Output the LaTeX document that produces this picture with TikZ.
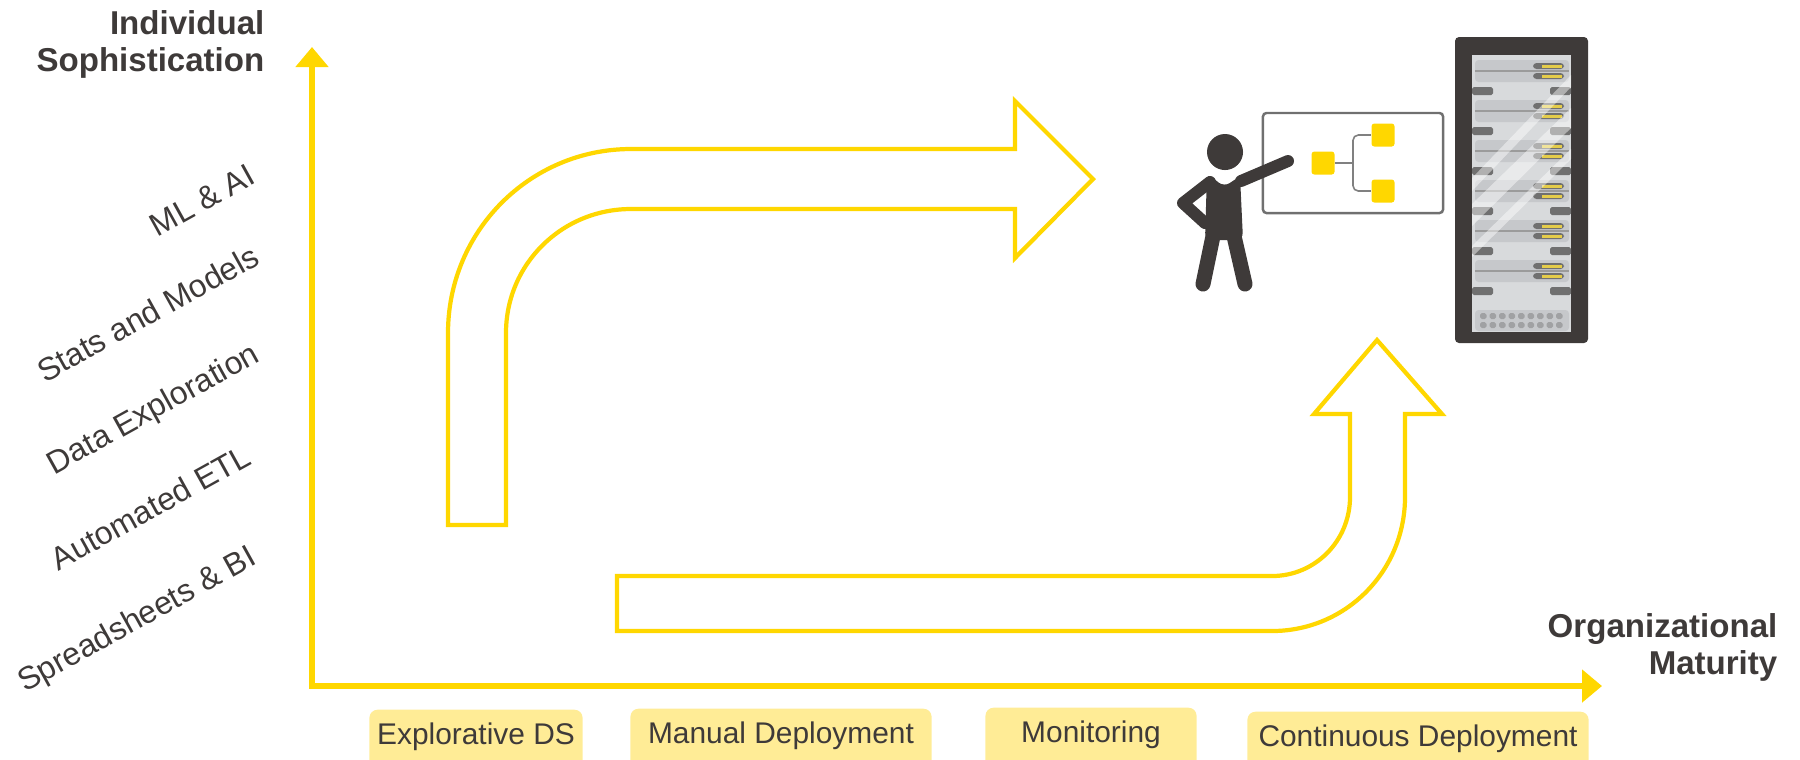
\documentclass[tikz,border=0pt]{standalone}
\usepackage{fontspec}
\setmainfont{Liberation Sans}
\usetikzlibrary{arrows.meta}

\definecolor{gold}{RGB}{255,215,0}
\definecolor{paleyellow}{RGB}{255,236,150}
\definecolor{ink}{RGB}{62,58,57}
\definecolor{boardgrey}{RGB}{112,112,112}
\definecolor{linegrey}{RGB}{128,128,128}
\definecolor{rackpanel}{RGB}{216,218,220}
\definecolor{rackunit}{RGB}{198,200,203}
\definecolor{rackrail}{RGB}{112,112,112}
\definecolor{ventgrey}{RGB}{160,161,163}
\definecolor{ledyellow}{RGB}{228,204,74}

\begin{document}
\begin{tikzpicture}[
  x=0.01cm, y=-0.01cm,
  axis/.style={draw=gold, line width=1.7pt, {Triangle[length=0.2cm, width=0.32cm]}-{Triangle[length=0.2cm, width=0.32cm]}},
  blockarrow/.style={draw=gold, line width=1.2pt, fill=white},
  axistitle/.style={align=right, inner sep=0, text=ink, font=\bfseries\fontsize{9.4}{10.4}\selectfont},
  level/.style={rotate=29, anchor=base east, inner sep=0, text=ink, font=\fontsize{9.1}{11}\selectfont},
  stage/.style={rectangle, fill=paleyellow, rounded corners=0.08cm, anchor=north, inner xsep=0, inner ysep=0,
    minimum height=0.62cm, text height=0.22cm, text depth=0.15cm, text=ink, font=\fontsize{8.5}{10}\selectfont},
  board/.style={rectangle, draw=boardgrey, line width=0.7pt, rounded corners=1pt, minimum width=1.8cm, minimum height=1.0cm},
  tile/.style={rectangle, fill=gold, rounded corners=0.8pt, minimum size=0.23cm, inner sep=0},
  tree/.style={draw=linegrey, line width=0.45pt, rounded corners=1.5pt},
  limb/.style={draw=ink, line cap=round, line join=round}
]
\useasboundingbox (0,0) rectangle (1800,759);

% axes
\coordinate (origin) at (312,686);
\coordinate (ytop) at (312,47);
\coordinate (xend) at (1602,686);
\draw[axis] (ytop) -- (origin) -- (xend);

\node[axistitle, anchor=north east] (ytitle) at (265,10) {Individual\\Sophistication};
\node[axistitle, anchor=north east] (xtitle) at (1778,613) {Organizational\\Maturity};

% skill levels along the vertical axis
\node[level] (ml) at (258,182) {ML \& AI};
\node[level] (stats) at (262,263) {Stats and Models};
\node[level] (explore) at (262,360) {Data Exploration};
\node[level] (etl) at (254,463) {Automated ETL};
\node[level] (sheets) at (259,563) {Spreadsheets \& BI};

% stages along the horizontal axis
\node[stage, minimum width=2.13cm] (explorative) at (476,709) {Explorative DS};
\node[stage, minimum width=3.01cm] (manual) at (781,708) {Manual Deployment};
\node[stage, minimum width=2.11cm] (monitoring) at (1091,707) {Monitoring};
\node[stage, minimum width=3.41cm] (continuous) at (1418,711) {Continuous Deployment};

% bent arrow: up, then right
\draw[blockarrow] (448,525) -- (448,333)
  .. controls (448,231) and (530,149) .. (631,149)
  -- (1015,149) -- (1015,101) -- (1093,179) -- (1015,258) -- (1015,209) -- (631,209)
  .. controls (562,209) and (506,264) .. (506,333)
  -- (506,525) -- cycle;

% bent arrow: right, then up
\draw[blockarrow] (617,576) -- (1272,576)
  .. controls (1315,576) and (1350,541) .. (1350,497)
  -- (1350,414) -- (1314,414) -- (1377,340) -- (1442,414) -- (1405,414) -- (1405,497)
  .. controls (1405,571) and (1346,631) .. (1272,631)
  -- (617,631) -- cycle;

% presenter at the board
\node[board] (board) at (1353,163) {};
\node[tile] (root) at (1323,163) {};
\node[tile] (leafa) at (1383,135) {};
\node[tile] (leafb) at (1383,191) {};
\coordinate (fork) at (1353,163);
\draw[tree] (root.east) -- (fork);
\draw[tree] (leafa.west) -| (fork) |- (leafb.west);

\fill[ink] (1225,152) circle[radius=0.18cm];
\fill[ink, rounded corners=2pt] (1207,173) -- (1224,187) -- (1240,176) -- (1243,240) -- (1205,240) -- cycle;
\draw[limb, line width=0.12cm] (1241,181) -- (1288,161);
\draw[limb, line width=0.12cm] (1210,182) -- (1183,203) -- (1205,223);
\draw[limb, line width=0.15cm] (1213,236) -- (1203,284);
\draw[limb, line width=0.15cm] (1234,236) -- (1245,284);

% server rack
\fill[ink, rounded corners=0.04cm] (1455,37) rectangle (1588,343);
\fill[rackpanel] (1472,55) rectangle (1571,332);
\foreach \k in {0,...,5}{
  \pgfmathsetmacro\top{60+40*\k}
  \fill[rackunit, rounded corners=1pt] (1475,\top) rectangle (1569,\top+22);
  \draw[rackrail!70, line width=0.3pt] (1475,\top+11) -- (1569,\top+11);
  \fill[rackrail, rounded corners=1pt] (1533,\top+3) rectangle (1564,\top+9);
  \fill[ledyellow] (1542,\top+4.5) rectangle (1562,\top+7.5);
  \fill[rackrail, rounded corners=1pt] (1533,\top+13) rectangle (1564,\top+19);
  \fill[ledyellow] (1542,\top+14.5) rectangle (1562,\top+17.5);
  \fill[rackrail, rounded corners=0.5pt] (1472,\top+27) rectangle (1493,\top+35);
  \fill[rackrail, rounded corners=0.5pt] (1550,\top+27) rectangle (1571,\top+35);
}
\fill[rackunit, rounded corners=1pt] (1475,310) rectangle (1569,331);
\foreach \i in {0,...,8}
  \foreach \j in {0,1}
    \fill[ventgrey, rounded corners=0.5pt] ({1480+9.5*\i},{313+9*\j}) rectangle +(6.5,6);

% glass reflections
\begin{scope}
  \clip (1472,55) rectangle (1571,332);
  \fill[white, opacity=0.45] (1472,178) -- (1571,75) -- (1571,87) -- (1472,191) -- cycle;
  \fill[white, opacity=0.45] (1472,204) -- (1571,108) -- (1571,128) -- (1472,226) -- cycle;
  \fill[white, opacity=0.45] (1472,246) -- (1571,149) -- (1571,159) -- (1472,257) -- cycle;
\end{scope}

\end{tikzpicture}
\end{document}
